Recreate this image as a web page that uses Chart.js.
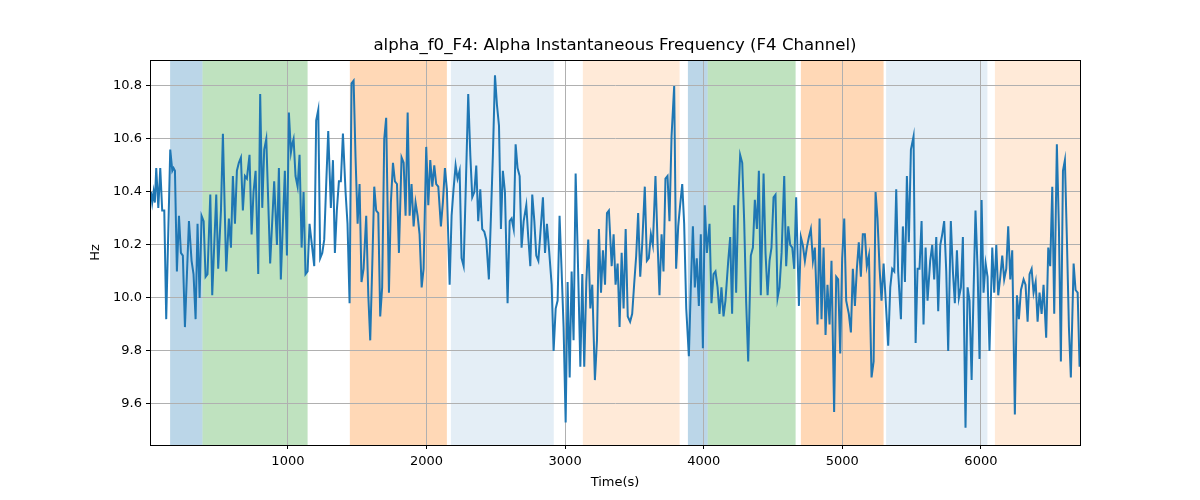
<!DOCTYPE html>
<html><head><meta charset="utf-8">
<script src="https://cdn.jsdelivr.net/npm/chart.js@4.4.1/dist/chart.umd.min.js"></script>
<style>html,body{margin:0;padding:0;background:#fff}#wrap{width:1200px;height:500px}</style>
</head><body><div id="wrap"><canvas id="c" width="1200" height="500"></canvas></div>
<script>
const chartTitle = 'alpha_f0_F4: Alpha Instantaneous Frequency (F4 Channel)';
const times = [12,21,31,40,50,65,79,93,108,122,151,166,175,185,199,214,228,242,257,286,305,319,334,348,363,377,392,406,420,440,454,483,497,517,531,555,574,589,603,618,632,646,661,675,690,704,723,738,752,767,786,800,815,829,844,
872,901,921,935,949,978,993,1007,1022,1031,1041,1055,1070,1084,1099,1113,1127,1142,1156,1171,1190,1204,1219,1233,1248,1262,1277,1291,1310,1325,1339,1353,1368,1382,1397,1416,1430,1445,1459,1474,1488,1503,1517,1531,1546,1565,1580,1594,1608,1623,1637,1652,1666,1680,1695,1709,
1729,1743,1758,1772,1787,1801,1820,1835,1849,1864,1878,1892,1907,1921,1936,1950,1965,1979,1998,2013,2027,2042,2056,2070,2085,2104,2118,2133,2147,2167,2181,2195,2210,2224,2239,2253,2268,2282,2301,2316,2330,2345,2359,2373,2388,2402,2417,2431,2450,2465,2479,2494,2508,2523,2537,2551,2566,
2585,2600,2614,2629,2643,2657,2672,2686,2701,2720,2734,2749,2763,2778,2792,2807,2821,2840,2855,2869,2883,2903,2917,2932,2946,2960,2975,2989,3004,3018,3033,3047,3061,3076,3090,3110,3124,3138,3153,3167,3182,3196,3215,3230,3244,3259,3273,3288,3302,3316,3336,3350,3364,3379,3393,3408,3422,3437,
3452,3469,3484,3498,3513,3527,3542,3556,3575,3590,3604,3619,3633,3652,3667,3681,3696,3710,3724,3739,3753,3768,3787,3801,3816,3830,3845,3859,3874,3893,3907,3922,3936,3950,3965,3979,3994,4008,4023,4042,4056,4071,4085,4100,4114,4128,4143,4157,4177,4191,4205,4220,4234,4249,4263,4278,4292,4306,
4321,4340,4355,4369,4384,4398,4412,4432,4446,4461,4475,4489,4504,4518,4533,4547,4562,4581,4595,4610,4624,4639,4653,4667,4687,4701,4715,4730,4744,4759,4773,4788,4802,4821,4836,4850,4865,4879,4893,4908,4922,4941,4956,4970,4985,4999,5014,5028,5047,5062,5076,5091,5105,5119,5134,5148,5163,5177,5192,
5211,5226,5240,5254,5269,5283,5298,5312,5331,5346,5360,5375,5389,5403,5423,5437,5452,5466,5480,5495,5514,5529,5543,5557,5572,5586,5601,5615,5634,5649,5663,5678,5692,5707,5721,5735,5750,5764,5783,5798,5812,5827,5841,5856,5870,5889,5904,5918,5933,5947,5961,5976,5990,6005,6019,6034,6048,6062,
6082,6096,6111,6125,6140,6154,6168,6183,6197,6212,6226,6245,6260,6274,6289,6308,6322,6337,6351,6366,6380,6395,6409,6423,6438,6452,6471,6486,6500,6515,6529,6548,6563,6577,6592,6606,6621,6635,6649,6669,6683,6698,6712];

const freqHz = [10.40,10.36,10.40,10.36,10.49,10.34,10.49,10.33,10.33,9.92,10.56,10.48,10.49,10.48,10.10,10.31,10.17,10.16,9.89,10.29,10.14,10.09,9.92,10.28,10.00,10.31,10.29,10.08,10.09,10.39,10.01,10.39,10.11,10.33,10.62,10.10,10.30,10.19,10.46,10.28,10.48,10.51,10.53,10.33,10.46,10.45,10.54,10.24,10.40,10.48,10.09,10.77,10.34,10.56,10.60,
10.13,10.44,10.20,10.49,10.07,10.48,10.16,10.70,10.55,10.58,10.60,10.46,10.42,10.54,10.19,10.40,10.09,10.10,10.28,10.21,10.12,10.67,10.71,10.15,10.17,10.22,10.44,10.63,10.34,10.52,10.17,10.33,10.44,10.44,10.62,10.40,10.28,9.98,10.81,10.82,10.53,10.28,10.43,10.06,10.11,10.31,10.01,9.84,10.11,10.42,10.33,10.32,9.93,10.04,10.60,10.68,
10.02,10.36,10.51,10.44,10.43,10.17,10.53,10.51,10.31,10.70,10.31,10.43,10.27,10.36,10.31,10.24,10.04,10.11,10.57,10.35,10.52,10.42,10.50,10.43,10.42,10.27,10.36,10.49,10.41,10.05,10.31,10.41,10.50,10.45,10.48,10.15,10.12,10.39,10.77,10.54,10.38,10.40,10.50,10.29,10.41,10.26,10.25,10.22,10.07,10.31,10.54,10.84,10.73,10.65,10.26,10.48,10.40,
9.98,10.29,10.30,10.26,10.58,10.49,10.46,10.19,10.29,10.35,10.23,10.12,10.39,10.29,10.16,10.14,10.24,10.38,10.17,10.28,10.19,10.05,9.80,9.96,9.99,10.31,10.10,9.89,9.53,10.06,9.70,10.10,9.84,10.47,10.19,9.74,10.09,9.74,10.06,10.22,9.96,10.05,9.69,9.84,10.26,10.02,10.18,10.05,10.32,10.33,10.12,10.24,10.05,10.13,9.89,10.17,9.96,10.26,
9.93,9.91,9.94,10.05,10.16,10.32,10.08,10.20,10.42,10.14,10.15,10.24,10.20,10.46,10.21,10.01,10.24,10.10,10.45,10.46,10.29,10.61,10.80,10.11,10.27,10.35,10.43,10.28,9.96,9.78,10.04,10.27,10.04,10.15,9.97,10.24,9.81,10.35,10.17,10.28,9.98,10.09,10.10,10.04,9.94,10.04,9.93,9.99,10.14,10.23,9.94,10.35,10.02,10.36,10.54,10.51,10.29,9.99,
9.76,10.16,10.19,10.37,10.26,10.48,10.01,10.47,10.17,10.01,10.14,10.19,10.38,10.39,10.00,10.04,10.17,10.46,10.12,10.27,10.20,10.19,10.11,10.38,9.97,10.23,10.20,10.14,10.19,10.23,10.26,10.14,10.19,9.90,10.30,9.92,10.19,9.86,10.05,9.90,10.14,9.57,10.08,10.07,9.79,10.15,10.30,9.99,9.94,9.87,10.11,9.97,10.11,10.21,10.08,10.24,10.24,10.12,10.16,
9.70,9.76,10.40,10.30,10.11,9.99,10.13,10.00,9.82,10.04,10.11,10.10,10.41,10.10,9.92,10.27,10.06,10.46,10.21,10.56,10.61,9.83,10.11,10.11,10.29,9.90,10.19,9.99,10.14,10.20,10.07,10.23,9.95,10.20,10.24,10.29,10.10,9.80,10.29,10.10,9.98,10.18,10.00,10.04,10.23,9.51,10.04,9.99,9.69,10.02,10.33,10.11,9.77,10.37,10.02,10.13,10.08,9.80,
10.19,10.02,10.20,10.01,10.08,10.16,10.07,10.11,10.27,10.07,10.18,9.56,10.01,9.92,10.03,10.07,10.05,9.91,10.09,10.11,10.02,10.06,9.91,10.02,9.94,10.05,9.85,10.19,10.12,10.42,9.94,10.58,10.26,9.76,10.48,10.52,10.21,9.89,9.70,10.13,10.03,10.02,9.74];

const xTicks = [1000, 2000, 3000, 4000, 5000, 6000];
const yTicks = [9.6, 9.8, 10.0, 10.2, 10.4, 10.6, 10.8];
const spanStart = [150, 384, 1447, 2176, 3128, 3886, 4029, 4701, 5316, 6101];
const spanEnd   = [384, 1142, 2147, 2918, 3826, 4029, 4663, 5298, 6047, 6715];
const spanColor = ['rgba(31,119,180,0.3)','rgba(44,160,44,0.3)','rgba(255,127,14,0.3)','rgba(31,119,180,0.12)','rgba(255,127,14,0.16)',
                   'rgba(31,119,180,0.3)','rgba(44,160,44,0.3)','rgba(255,127,14,0.3)','rgba(31,119,180,0.12)','rgba(255,127,14,0.16)'];

const points = times.map((t, i) => ({x: t, y: freqHz[i]}));

const spanPlugin = {
  id: 'spans',
  beforeDraw(chart) {
    const {ctx, chartArea, scales} = chart;
    ctx.save();
    ctx.beginPath();
    ctx.rect(chartArea.left, chartArea.top, chartArea.right - chartArea.left, chartArea.bottom - chartArea.top);
    ctx.clip();
    for (let i = 0; i < spanStart.length; i++) {
      const x0 = scales.x.getPixelForValue(spanStart[i]);
      const x1 = scales.x.getPixelForValue(spanEnd[i]);
      ctx.fillStyle = spanColor[i];
      ctx.fillRect(x0, chartArea.top, x1 - x0, chartArea.bottom - chartArea.top);
    }
    ctx.restore();
  },
  afterDraw(chart) {
    const {ctx, chartArea} = chart;
    ctx.save();
    ctx.strokeStyle = '#000';
    ctx.lineWidth = 1;
    ctx.strokeRect(Math.round(chartArea.left) + 0.5, Math.round(chartArea.top) + 0.5,
      Math.round(chartArea.right - chartArea.left), Math.round(chartArea.bottom - chartArea.top));
    ctx.fillStyle = '#000';
    ctx.font = "16.6px 'DejaVu Sans', sans-serif";
    ctx.textAlign = 'center';
    ctx.textBaseline = 'middle';
    ctx.fillText(chartTitle, (chartArea.left + chartArea.right) / 2, 46);
    ctx.restore();
  }
};

Chart.defaults.font.family = "'DejaVu Sans', sans-serif";
Chart.defaults.color = '#000';

new Chart(document.getElementById('c'), {
  type: 'line',
  data: {
    datasets: [{
      data: points,
      borderColor: '#1f77b4',
      borderWidth: 2,
      pointRadius: 0,
      tension: 0,
      fill: false
    }]
  },
  options: {
    responsive: false,
    animation: false,
    devicePixelRatio: 1,
    layout: {padding: {left: 84, right: 120, top: 60, bottom: 6}},
    plugins: {
      legend: {display: false},
      tooltip: {enabled: false},
      title: {display: false}
    },
    scales: {
      x: {
        type: 'linear',
        min: 5,
        max: 6715,
        afterFit(s) { s.height = 49; },
        afterBuildTicks(s) { s.ticks = xTicks.map(v => ({value: v})); },
        ticks: {font: {size: 13}, padding: 5, maxRotation: 0, callback: v => String(v)},
        grid: {color: '#b0b0b0', lineWidth: 1, tickLength: 4, tickColor: '#000'},
        border: {color: '#000'},
        title: {display: true, text: 'Time(s)', font: {size: 13}, padding: {top: 4, bottom: 4}}
      },
      y: {
        type: 'linear',
        min: 9.445,
        max: 10.898,
        afterFit(s) { s.width = 66; },
        afterBuildTicks(s) { s.ticks = yTicks.map(v => ({value: v})); },
        ticks: {font: {size: 13}, padding: 4, callback: v => Number(v).toFixed(1)},
        grid: {color: '#b0b0b0', lineWidth: 1, tickLength: 4, tickColor: '#000'},
        border: {color: '#000'},
        title: {display: true, text: 'Hz', font: {size: 13}, padding: {top: 4, bottom: 4}}
      }
    }
  },
  plugins: [spanPlugin]
});
</script>
</body></html>
